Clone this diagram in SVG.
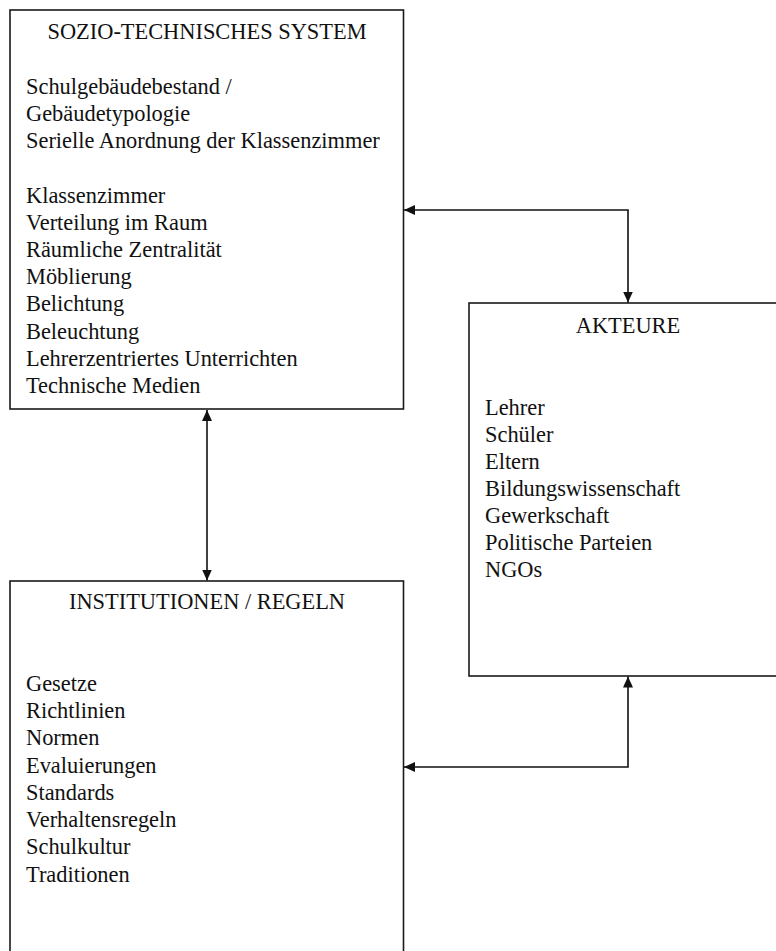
<svg xmlns="http://www.w3.org/2000/svg" width="776" height="951" viewBox="0 0 776 951">
<style>
.box{fill:#fff;stroke:#1a1a1a;stroke-width:1.6}
text{font-family:"Liberation Serif","Times New Roman",serif;font-size:22.4px;fill:#111}
.t{text-anchor:middle}
.c{fill:none;stroke:#111;stroke-width:1.6}
</style>
<defs>
<marker id="ah" markerUnits="userSpaceOnUse" markerWidth="12" markerHeight="11" refX="11" refY="5" orient="auto-start-reverse" viewBox="0 0 12 11">
<path d="M0,0 L11,5 L0,10 z" fill="#111"/>
</marker>
</defs>
<rect width="776" height="951" fill="#fff"/>
<g id="sozio">
<rect class="box" x="10" y="10" width="393.5" height="399"/>
<text class="t" x="207" y="39.3">SOZIO-TECHNISCHES SYSTEM</text>
<text x="26" y="93.7">Schulgebäudebestand /</text>
<text x="26" y="120.9">Gebäudetypologie</text>
<text x="26" y="148.1">Serielle Anordnung der Klassenzimmer</text>
<text x="26" y="202.5">Klassenzimmer</text>
<text x="26" y="229.7">Verteilung im Raum</text>
<text x="26" y="256.9">Räumliche Zentralität</text>
<text x="26" y="284.1">Möblierung</text>
<text x="26" y="311.3">Belichtung</text>
<text x="26" y="338.5">Beleuchtung</text>
<text x="26" y="365.7">Lehrerzentriertes Unterrichten</text>
<text x="26" y="392.9">Technische Medien</text>
</g>
<g id="akteure">
<rect class="box" x="469" y="303" width="320" height="373"/>
<text class="t" x="628" y="333">AKTEURE</text>
<text x="485" y="415">Lehrer</text>
<text x="485" y="442">Schüler</text>
<text x="485" y="469">Eltern</text>
<text x="485" y="496">Bildungswissenschaft</text>
<text x="485" y="523">Gewerkschaft</text>
<text x="485" y="550">Politische Parteien</text>
<text x="485" y="577">NGOs</text>
</g>
<g id="institutionen">
<rect class="box" x="10" y="581" width="393.5" height="400"/>
<text class="t" x="207" y="609">INSTITUTIONEN / REGELN</text>
<text x="26" y="691">Gesetze</text>
<text x="26" y="718">Richtlinien</text>
<text x="26" y="745">Normen</text>
<text x="26" y="773">Evaluierungen</text>
<text x="26" y="800">Standards</text>
<text x="26" y="827">Verhaltensregeln</text>
<text x="26" y="854">Schulkultur</text>
<text x="26" y="882">Traditionen</text>
</g>
<g id="connectors">
<path class="c" d="M628,302.5 V210 H404" marker-start="url(#ah)" marker-end="url(#ah)"/>
<path class="c" d="M207,410 V580.5" marker-start="url(#ah)" marker-end="url(#ah)"/>
<path class="c" d="M628,676.5 V767 H404" marker-start="url(#ah)" marker-end="url(#ah)"/>
</g>
</svg>
